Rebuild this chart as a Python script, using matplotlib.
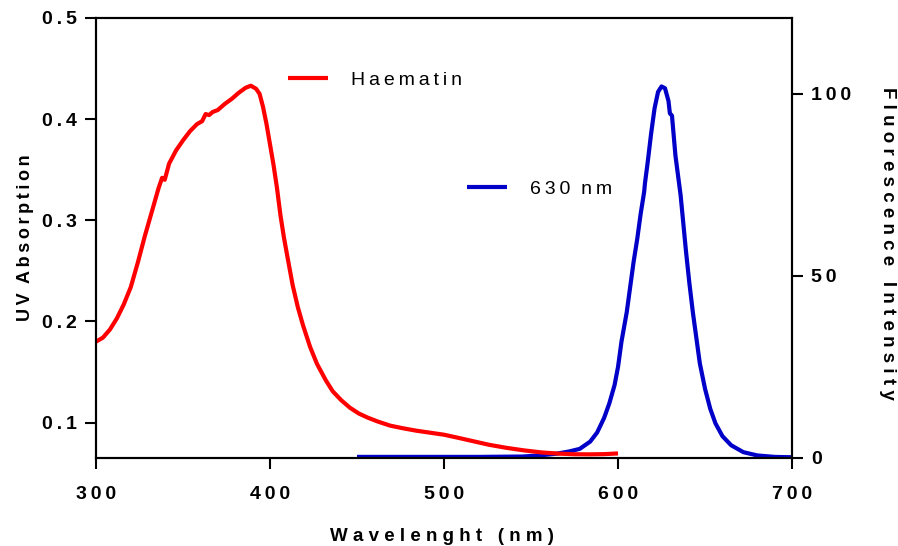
import matplotlib
matplotlib.use("Agg")
import matplotlib.pyplot as plt

plt.rcParams['font.family'] = ['Liberation Sans', 'DejaVu Sans']

# Haematin UV absorption (left axis)
haem_wl = [300, 304, 308, 312, 316, 320, 324, 328, 332, 336, 338, 339.5, 342, 346,
           350, 354, 358, 361, 363, 365, 367, 370, 374, 378, 382, 386, 389, 392,
           394, 396, 398, 400, 402, 404, 406, 408, 410, 413, 416, 419, 423, 427,
           432, 436, 441, 446, 451, 456, 462, 469, 476, 484, 492, 500, 508, 517,
           526, 536, 546, 556, 566, 575, 584, 592, 600]
haem_abs = [0.180, 0.184, 0.192, 0.203, 0.217, 0.234, 0.258, 0.284, 0.308, 0.332,
            0.342, 0.340, 0.356, 0.369, 0.379, 0.388, 0.395, 0.398, 0.405, 0.404,
            0.407, 0.409, 0.415, 0.420, 0.426, 0.431, 0.433, 0.430, 0.425, 0.412,
            0.395, 0.375, 0.355, 0.332, 0.305, 0.283, 0.264, 0.236, 0.214, 0.196,
            0.175, 0.158, 0.142, 0.131, 0.122, 0.1146, 0.109, 0.105, 0.101, 0.097,
            0.0945, 0.0920, 0.0900, 0.0880, 0.0850, 0.0815, 0.0780, 0.0750, 0.0725,
            0.0705, 0.0693, 0.0687, 0.0686, 0.0688, 0.0695]

# Fluorescence emission, 630 nm (right axis)
fl_wl = [450, 480, 520, 545, 555, 565, 572, 578, 584, 588, 592, 595, 598, 600, 602,
         605, 607, 609, 611, 613, 615, 615.5, 617, 619, 621, 623, 625, 627, 629,
         629.8, 631, 633, 636, 639, 641, 643, 645, 647, 650, 653, 656, 660, 665,
         672, 680, 690, 700]
fl_int = [0.3, 0.3, 0.3, 0.4, 0.7, 1.2, 1.8, 2.5, 4.5, 7, 11, 15, 20, 25, 32,
          40, 47, 54, 60, 67, 73, 75.5, 81, 89, 96, 100.5, 102, 101.5, 98,
          94.6, 94, 83, 72, 57, 48, 40, 33, 26, 19, 13.5, 9.5, 6, 3.5,
          1.6, 0.7, 0.3, 0.2]

x_ticks = [300, 400, 500, 600, 700]
x_ticklabels = ['300', '400', '500', '600', '700']
left_ticks = [0.1, 0.2, 0.3, 0.4, 0.5]
left_ticklabels = ['0.1', '0.2', '0.3', '0.4', '0.5']
right_ticks = [0, 50, 100]
right_ticklabels = ['0', '50', '100']

THIN = '\u2009'


def spaced(s, gap=THIN, word='  '):
    # Prism-style letter spacing
    return word.join(gap.join(w) for w in s.split(' '))


fig = plt.figure(figsize=(8.98, 5.46), dpi=100)
ax1 = fig.add_axes([0.1069, 0.1612, 0.7751, 0.8059])
ax2 = ax1.twinx()
ax1.set_zorder(ax2.get_zorder() + 1)
ax1.patch.set_visible(False)

red_line, = ax1.plot(haem_wl, haem_abs, color='#FF0000', lw=3, solid_capstyle='butt',
                     label=spaced('Haematin'))
blue_line, = ax2.plot(fl_wl, fl_int, color='#0000C8', lw=3, solid_capstyle='butt',
                      label=spaced('630 nm'))

ax1.set_xlim(300, 700)
ax1.set_ylim(0.065, 0.5)
ax2.set_ylim(0, 120.8)

tick_font = dict(fontsize=14, fontweight='bold')
ax1.set_xticks(x_ticks)
ax1.set_xticklabels([spaced(t) for t in x_ticklabels], **tick_font)
ax1.set_yticks(left_ticks)
ax1.set_yticklabels([spaced(t) for t in left_ticklabels], **tick_font)
ax2.set_yticks(right_ticks)
ax2.set_yticklabels([spaced(t) for t in right_ticklabels], **tick_font)

ax1.tick_params(axis='x', direction='out', length=8, width=1.5, pad=12)
ax1.tick_params(axis='y', direction='out', length=8, width=1.5, pad=6)
ax2.tick_params(axis='y', direction='out', length=8, width=1.5, pad=6)

for ax in (ax1, ax2):
    for sp in ax.spines.values():
        sp.set_linewidth(1.5)
        sp.set_color('black')

ax1.set_xlabel(spaced('Wavelenght (nm)', ' ', '   '), fontsize=13.5,
               fontweight='bold', va='center')
ax1.xaxis.set_label_coords(0.497, -0.1795)
ax1.set_ylabel(spaced('UV Absorption', THIN, '  '), fontsize=13,
               fontweight='bold', va='center')
ax1.yaxis.set_label_coords(-0.1006, 0.5)
ax2.set_ylabel(spaced('Fluorescence Intensity', ' ', '   '), fontsize=13.5,
               fontweight='bold', rotation=-90, va='center')
ax2.yaxis.set_label_coords(1.1365, 0.4886)

leg_kw = dict(frameon=False, fontsize=14, handlelength=2.06, handletextpad=1.19,
              borderpad=0, borderaxespad=0, loc='center left',
              bbox_transform=fig.transFigure)
leg1 = ax1.legend(handles=[red_line], bbox_to_anchor=(0.3207, 0.8535), **leg_kw)
leg2 = ax2.legend(handles=[blue_line], bbox_to_anchor=(0.520, 0.6538), **leg_kw)

fig.savefig('out.png', dpi=100)
